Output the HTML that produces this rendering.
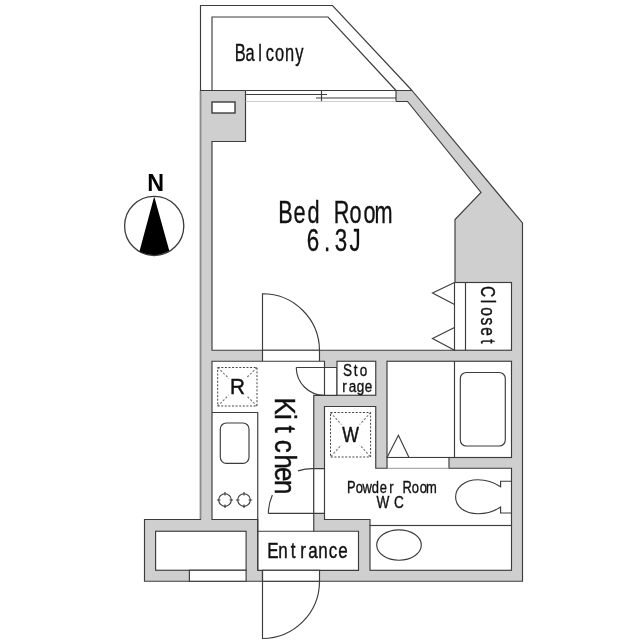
<!DOCTYPE html>
<html><head><meta charset="utf-8"><title>Floor plan</title>
<style>
html,body{margin:0;padding:0;background:#fff;}
body{width:640px;height:640px;overflow:hidden;}
svg{display:block;will-change:transform;}
.g{fill:#cfcfcf;stroke:#3c3c3c;stroke-width:1.150;}
.w{fill:#fff;stroke:#3c3c3c;stroke-width:1.150;}
.f{fill:#fff;stroke:none;}
.l{fill:none;stroke:#3c3c3c;stroke-width:1.150;}
.d{fill:none;stroke:#444;stroke-width:1;stroke-dasharray:2 1.6;}
.x{fill:none;stroke:#808080;stroke-width:1.2;stroke-dasharray:2.2 1.6;}
text{font-family:"Liberation Sans",sans-serif;fill:#111;text-anchor:middle;}
</style></head><body>
<svg width="640" height="640" viewBox="0 0 640 640">
<rect width="640" height="640" fill="#fff"/>
<!-- balcony -->
<path class="l" d="M200.500 90.500V5.500H332.500L412 90.500"/>
<path class="l" d="M212 90.500V17H328L396 90.500"/>
<!-- outer gray -->
<path class="g" d="M200.500 90.500H412L522.500 223V581.250H144.500V519.500H200.500Z"/>
<path d="M200.500 91V519" fill="none" stroke="#8a8a8a" stroke-width="1.6"/>
<!-- window -->
<rect class="f" x="245.500" y="90.500" width="150.500" height="11"/>
<path class="l" d="M245.500 90.500H396M245.500 94.500H327M321.500 90.500V101.500M316 98H396M396 90.500V101.500M245.500 90.500V101.500"/>
<path class="l" style="stroke:#555" d="M245.500 102H396"/>
<!-- bedroom -->
<path class="f" d="M245.500 101.500H407.500L481 192.500L455 219.500V350.250H212V141.500H245.500Z"/>
<path class="l" d="M396 101.500H407.500L481 192.500L455 219.500V350.250H212V141.500H245.500V101.500"/>
<rect class="w" x="212" y="102" width="23" height="11" style="stroke-width:1.400"/>
<!-- closet -->
<rect class="w" x="454.500" y="282.500" width="57" height="67.750"/>
<path class="l" d="M465.500 282.500V350.250"/>
<path class="l" d="M454.500 282.500L432.500 293L454.500 304.500M454.500 327.500L432.500 338.500L454.500 350.250"/>
<!-- bedroom door opening -->
<rect class="f" x="262.500" y="350.250" width="57" height="11"/>
<path class="l" d="M262.500 361V293.750A57 57 0 0 1 319.500 350.250V361.250M262.500 350.250H319.500"/>
<!-- kitchen hall entrance -->
<path class="w" d="M212 361.250H324.500V367.500H337V395.300H313.750V531.250H358.500V570.300H257.750V519.500H212Z"/>
<path class="l" d="M212 412.500H257.750V570.300M257.750 531.250H314M324.500 367.500V395.300"/>
<!-- fridge -->
<path class="x" d="M217.700 367.500L257 406M257 367.500L217.700 406"/>
<rect class="f" x="228.500" y="376.500" width="18.500" height="20.500"/>
<rect class="d" x="217.700" y="367.500" width="39.300" height="38.500"/>
<!-- sink -->
<rect class="l" x="220.300" y="423" width="28.700" height="40.300" rx="6"/>
<!-- burners -->
<g class="l"><circle cx="225.00" cy="500.00" r="6.30"/><path d="M225.00 491.90v3.60M225.00 504.50v3.60M216.90 500.00h3.60M229.50 500.00h3.60"/><circle cx="244.00" cy="500.00" r="6.30"/><path d="M244.00 491.90v3.60M244.00 504.50v3.60M235.90 500.00h3.60M248.50 500.00h3.60"/></g>
<!-- small door near storage -->
<path class="l" d="M296.250 367.500H337M296.250 367.500A28 28 0 0 0 324.500 395.300"/>
<!-- storage -->
<rect class="w" x="337" y="361.250" width="38.750" height="34"/>
<!-- powder room door opening -->
<rect class="f" x="313.750" y="468.600" width="10.500" height="44.800"/>
<path class="l" d="M313.750 468.600H324.250M313.750 468.600V513.400M268.400 513.400H324.250M268.400 513.400A45.300 45.300 0 0 1 272.37 494.97M298.03 470.91A45.300 45.300 0 0 1 313.750 468.600"/>
<!-- powder room -->
<path class="w" d="M324.500 406.500H375.750V468.250H511.500V525.500H370V519.500H324.500Z"/>
<!-- washer -->
<path class="x" d="M330.500 412.500L370.600 457M370.600 412.500L330.500 457"/>
<rect class="f" x="339.500" y="424.500" width="22" height="20.500"/>
<rect class="d" x="330.500" y="412.500" width="40.100" height="44.500"/>
<!-- bathroom -->
<rect class="w" x="387" y="361.250" width="124.500" height="96.250"/>
<rect class="f" x="387.500" y="458" width="61.500" height="10.500"/>
<path class="l" d="M387 457.500V468.250M449 457.500V468.250M454.500 361.250V457.500"/>
<path class="l" style="stroke:#aaa" d="M387.500 468.250H448.500"/>
<rect class="l" x="460.300" y="372.500" width="45" height="73.500" rx="6"/>
<path class="l" d="M387 457.500L398.400 435.300L409 457.500"/>
<!-- toilet -->
<path class="l" d="M511.500 481.250H500.600V486.700C492 481 484 479.700 478 479.700C464 479.700 455.600 488 455.600 497C455.600 506 464 513.750 478 513.750C486 513.750 494 511.500 500.600 507V513H511.500"/>
<!-- lower sink room -->
<rect class="w" x="370" y="525.500" width="141.500" height="44.800"/>
<ellipse class="l" cx="399" cy="545" rx="22.300" ry="15.200"/>
<!-- left box -->
<rect class="w" x="155.600" y="531.250" width="90.500" height="39"/>
<rect class="w" x="189.400" y="570.250" width="56.700" height="11"/>
<!-- entrance door -->
<rect class="w" x="262.500" y="570.300" width="57" height="10.950"/>
<path class="l" d="M262.500 570.300V638.500A57.250 57.250 0 0 0 319.500 581.250"/>
<!-- compass -->
<circle class="l" cx="154.200" cy="225.900" r="29.600" style="stroke-width:1.300"/>
<path d="M154.200 196.500L139.500 251.200A29.600 29.600 0 0 0 169.300 250.800Z" fill="#000"/>
<!-- labels -->
<text x="155.600" y="190.700" font-size="23.300" font-weight="bold" style="fill:#000">N</text>
<g transform="translate(0 61.00) scale(0.700 1.000)"><text font-size="23.50" stroke="#111" stroke-width="0.35" x="343.29 357.36 371.43 385.50 399.57 413.64 427.71" y="0">Balcony</text></g>
<g transform="translate(0 222.50) scale(0.700 1.000)"><text font-size="31.00" stroke="#111" stroke-width="0.35" x="407.86 427.86 447.86 467.86 487.86 507.86 527.86 547.86" y="0">Bed Room</text></g>
<g transform="translate(0 250.50) scale(0.720 1.000)"><text font-size="31.00" stroke="#111" stroke-width="0.35" x="434.72 454.17 473.61 493.06" y="0">6.3J</text></g>
<g transform="translate(480.50 0) rotate(90) scale(0.740 1.000)"><text font-size="21.00" stroke="#111" stroke-width="0.40" x="393.92 407.43 420.95 434.46 447.97 461.49" y="0">Closet</text></g>
<g transform="translate(274.90 0) rotate(90) scale(0.860 1.000)"><text font-size="30.00" stroke="#111" stroke-width="0.45" x="472.33 484.88 499.07 518.84 536.74 551.40 566.40" y="0">Kitchen</text></g>
<g transform="translate(0 375.80) scale(0.820 1.000)"><text font-size="16.50" stroke="#111" stroke-width="0.36" x="423.90 433.66 443.41" y="0">Sto</text></g>
<g transform="translate(0 391.90) scale(0.820 1.000)"><text font-size="16.50" stroke="#111" stroke-width="0.36" x="420.12 429.88 439.63 449.39" y="0">rage</text></g>
<g transform="translate(0 394.20) scale(0.950 1.000)"><text font-size="21.80" stroke="#111" stroke-width="0.45" x="249.89" y="0">R</text></g>
<g transform="translate(0 442.00) scale(0.780 1.000)"><text font-size="22.60" stroke="#111" stroke-width="0.50" x="449.36" y="0">W</text></g>
<g transform="translate(0 492.50) scale(0.770 1.000)"><text font-size="16.80" stroke="#111" stroke-width="0.38" x="456.23 466.62 477.01 487.40 497.79 508.18 518.57 528.96 539.35 549.74 560.13" y="0">Powder Room</text></g>
<g transform="translate(0 507.80) scale(0.800 1.000)"><text font-size="17.00" stroke="#111" stroke-width="0.38" x="478.75 488.75 498.75" y="0">W C</text></g>
<g transform="translate(0 558.00) scale(0.760 1.000)"><text font-size="22.30" stroke="#111" stroke-width="0.45" x="359.21 372.37 385.53 398.68 411.84 425.00 438.16 451.32" y="0">Entrance</text></g>
</svg>
</body></html>
